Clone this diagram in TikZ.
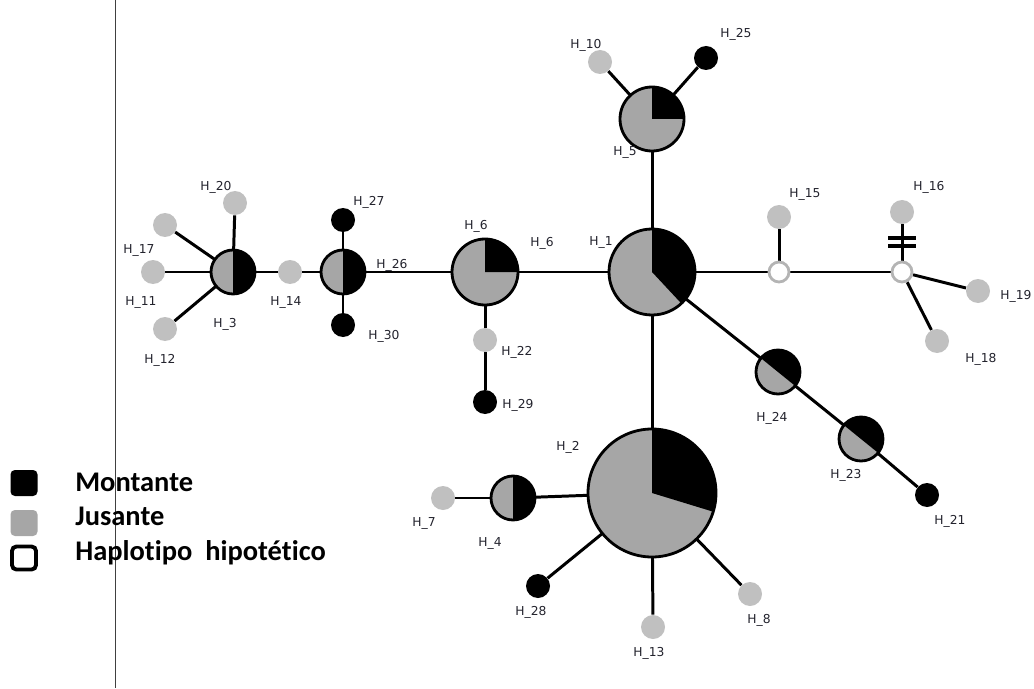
\documentclass[tikz,border=0pt]{standalone}
\usepackage{fontspec}
\setmainfont{Carlito}[RawFeature=-liga]
\newfontfamily\lblfont{DejaVu Sans}
\usetikzlibrary{positioning,backgrounds}
\definecolor{hMont}{RGB}{0,0,0}
\definecolor{hJus}{RGB}{166,166,166}
\definecolor{hDot}{RGB}{192,192,192}
\definecolor{hHyp}{RGB}{180,180,180}
\definecolor{hTxt}{RGB}{35,35,45}
\tikzset{
  hap/.style={circle, fill=hJus, inner sep=0pt},
  hapline/.style={draw=black, line width=1.6pt},
  dotj/.style={circle, fill=hDot, inner sep=0pt, minimum size=24*0.02cm},
  dotm/.style={circle, fill=hMont, inner sep=0pt, minimum size=24*0.02cm},
  hyp/.style={circle, draw=hHyp, fill=white, line width=1.6pt,
              inner sep=0pt, minimum size=20*0.02cm},
  link/.style={draw=black, line width=1.7pt},
  mut/.style={draw=black, line width=1.8pt},
  lbl/.style={font=\lblfont\fontsize{7}{8}\selectfont, text=hTxt, inner sep=0pt},
  key/.style={rectangle, rounded corners=2.5pt, inner sep=0pt,
              minimum width=27*0.02cm, minimum height=26*0.02cm},
  keytxt/.style={anchor=base west, inner sep=0pt,
                 font=\bfseries\fontsize{16.2}{19}\selectfont},
}
% #1 name, #2 centre, #3 radius (px), #4/#5 black sector
\newcommand{\Hap}[5]{%
  \node[hap, minimum size=#3*0.04cm] (#1) at (#2) {};
  \fill[hMont] (#1.center) -- ++(#4:#3*0.02cm)
    arc[start angle=#4, end angle=#5, radius=#3*0.02cm] -- cycle;
  \draw[hapline] (#1.center) circle[radius=#3*0.02cm];}

\begin{document}
\begin{tikzpicture}[x=0.02cm, y=-0.02cm]
  \useasboundingbox (0,0) rectangle (1034,689);

  % separator rule
  \draw[line width=0.5pt, black!75] (115,0) -- (115,688);

  %====================== HAPLOTYPES ======================
  \Hap{h1}{652,272}{43}{-47}{90}
  \Hap{h2}{652,493}{64}{-17}{90}
  \Hap{h5}{652,119}{32}{0}{90}
  \Hap{h6}{485,272}{33}{0}{90}
  \Hap{h26}{343,272}{22}{-90}{90}
  \Hap{h3}{233,272}{22}{-90}{90}
  \Hap{h4}{513,498}{22}{-90}{90}
  \Hap{h24}{778,372}{22}{-39}{141}
  \Hap{h23}{861,439}{22}{-39}{141}

  \node[dotj] (h10) at (600,62) {};
  \node[dotm] (h25) at (706,58) {};
  \node[dotj] (h22) at (485,340) {};
  \node[dotm] (h29) at (485,402) {};
  \node[dotm] (h27) at (343,220) {};
  \node[dotm] (h30) at (343,325) {};
  \node[dotj] (h14) at (290,272) {};
  \node[dotj] (h20) at (235,203) {};
  \node[dotj] (h17) at (165,225) {};
  \node[dotj] (h11) at (153,272) {};
  \node[dotj] (h12) at (165,329) {};
  \node[hyp]  (x1)  at (779,272) {};
  \node[hyp]  (x2)  at (902,272) {};
  \node[dotj] (h15) at (779,217) {};
  \node[dotj] (h16) at (902,212) {};
  \node[dotj] (h19) at (978,291) {};
  \node[dotj] (h18) at (937,341) {};
  \node[dotm] (h21) at (927,495) {};
  \node[dotj] (h7)  at (443,498) {};
  \node[dotm] (h28) at (538,586) {};
  \node[dotj] (h13) at (653,627) {};
  \node[dotj] (h8)  at (750,594) {};

  %====================== LINKS ======================
  \begin{scope}[on background layer]
    \draw[link] (h1) -- (h5);
    \draw[link] (h5) -- (h10);
    \draw[link] (h5) -- (h25);
    \draw[link] (h1) -- (h6);
    \draw[link] (h6) -- (h26);
    \draw[link] (h26) -- (h14);
    \draw[link] (h14) -- (h3);
    \draw[link] (h3) -- (h20);
    \draw[link] (h3) -- (h17);
    \draw[link] (h3) -- (h11);
    \draw[link] (h3) -- (h12);
    \draw[link] (h26) -- (h27);
    \draw[link] (h26) -- (h30);
    \draw[link] (h6) -- (h22);
    \draw[link] (h22) -- (h29);
    \draw[link] (h1) -- (x1);
    \draw[link] (x1) -- (h15);
    \draw[link] (x1) -- (x2);
    \draw[link] (x2) -- (h16);
    \draw[link] (x2) -- (h19);
    \draw[link] (x2) -- (h18);
    \draw[link] (h1) -- (h24);
    \draw[link] (h24) -- (h23);
    \draw[link] (h23) -- (h21);
    \draw[link] (h1) -- (h2);
    \draw[link] (h2) -- (h4);
    \draw[link] (h4) -- (h7);
    \draw[link] (h2) -- (h28);
    \draw[link] (h2) -- (h13);
    \draw[link] (h2) -- (h8);
  \end{scope}

  % double mutation mark on x2 -- h16
  \coordinate (m16) at (902,242);
  \draw[mut] ([shift={(-14,-4)}]m16) -- ++(28,0);
  \draw[mut] ([shift={(-14,4)}]m16) -- ++(28,0);

  %====================== LABELS ======================
  \node[lbl] (t1)  at (601,242) {H\_1};
  \node[lbl] (t2)  at (568,447) {H\_2};
  \node[lbl] (t3)  at (225,324) {H\_3};
  \node[lbl] (t4)  at (490,543) {H\_4};
  \node[lbl] (t5)  at (625,152) {H\_5};
  \node[lbl] (t6)  at (476,226) {H\_6};
  \node[lbl] (t6b) at (542,243) {H\_6};
  \node[lbl] (t7)  at (424,523) {H\_7};
  \node[lbl] (t8)  at (759,620) {H\_8};
  \node[lbl] (t10) at (586,45)  {H\_10};
  \node[lbl] (t11) at (141,302) {H\_11};
  \node[lbl] (t12) at (160,360) {H\_12};
  \node[lbl] (t13) at (649,653) {H\_13};
  \node[lbl] (t14) at (286,302) {H\_14};
  \node[lbl] (t15) at (805,194) {H\_15};
  \node[lbl] (t16) at (929,187) {H\_16};
  \node[lbl] (t17) at (139,250) {H\_17};
  \node[lbl] (t18) at (981,359) {H\_18};
  \node[lbl] (t19) at (1016,296) {H\_19};
  \node[lbl] (t20) at (216,187) {H\_20};
  \node[lbl] (t21) at (950,521) {H\_21};
  \node[lbl] (t22) at (517,352) {H\_22};
  \node[lbl] (t23) at (846,475) {H\_23};
  \node[lbl] (t24) at (772,418) {H\_24};
  \node[lbl] (t25) at (736,34)  {H\_25};
  \node[lbl] (t26) at (392,265) {H\_26};
  \node[lbl] (t27) at (369,202) {H\_27};
  \node[lbl] (t28) at (531,612) {H\_28};
  \node[lbl] (t29) at (518,405) {H\_29};
  \node[lbl] (t30) at (384,336) {H\_30};

  %====================== KEY ======================
  \node[key, fill=hMont] (kM) at (24,483) {};
  \node[key, fill=hJus]  (kJ) at (24,523) {};
  \node[key, draw=black, fill=white, line width=2.2pt,
        minimum width=24*0.02cm, minimum height=23*0.02cm] (kH) at (24,558) {};
  \node[keytxt] (kMt) at (75,491) {Montante};
  \node[keytxt] (kJt) at (75,525) {Jusante};
  \node[keytxt] (kHt) at (75,560) {Haplotipo\ \ hipotético};
\end{tikzpicture}
\end{document}
